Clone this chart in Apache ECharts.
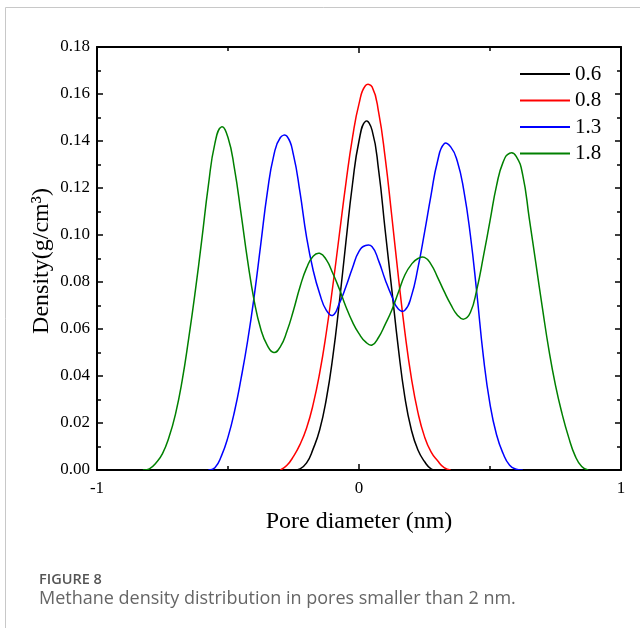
<!DOCTYPE html>
<html>
<head>
<meta charset="utf-8">
<script src="https://cdn.jsdelivr.net/npm/echarts@6/dist/echarts.min.js"></script>
<style>
html,body{margin:0;padding:0;background:#fff;}
#chart{width:640px;height:628px;}
</style>
</head>
<body>
<div id="chart"></div>
<script>
// ---- data ----
var seriesNames = ['0.6', '0.8', '1.3', '1.8'];
var seriesColors = ['#000000', '#ff0000', '#0000ff', '#008000'];

var x06 = [-0.25,-0.225,-0.2,-0.175,-0.15,-0.125,-0.1,-0.075,-0.05,-0.025,0,0.025,0.05,0.075,0.1,0.125,0.15,0.175,0.2,0.225,0.25,0.275,0.3];
var y06 = [0,0.0005,0.003,0.009,0.0171,0.030,0.0481,0.0713,0.097,0.1215,0.140,0.1484,0.1445,0.1275,0.1019,0.077,0.052,0.031,0.017,0.0085,0.0036,0.0005,0];

var x08 = [-0.3,-0.275,-0.25,-0.225,-0.2,-0.175,-0.15,-0.125,-0.1,-0.075,-0.05,-0.025,0,0.025,0.05,0.075,0.1,0.125,0.15,0.175,0.2,0.225,0.25,0.275,0.3,0.325,0.35];
var y08 = [0,0.002,0.0058,0.0109,0.0179,0.0279,0.0413,0.0583,0.0783,0.1002,0.122,0.1413,0.1558,0.1636,0.163,0.1522,0.1328,0.1082,0.0825,0.0588,0.0391,0.0244,0.0142,0.0077,0.0039,0.001,0];

var x13 = [-0.575,-0.55,-0.525,-0.5,-0.475,-0.45,-0.425,-0.4,-0.375,-0.35,-0.325,-0.3,-0.275,-0.25,-0.225,-0.2,-0.175,-0.15,-0.125,-0.1,-0.075,-0.05,-0.025,0,0.025,0.05,0.075,0.1,0.125,0.15,0.175,0.2,0.225,0.25,0.275,0.3,0.325,0.35,0.375,0.4,0.425,0.45,0.475,0.5,0.525,0.55,0.575,0.6,0.625];
var y13 = [0,0.001,0.006,0.014,0.025,0.039,0.055,0.074,0.096,0.118,0.134,0.1415,0.142,0.134,0.118,0.099,0.085,0.075,0.068,0.0658,0.0709,0.078,0.086,0.093,0.0955,0.095,0.089,0.081,0.074,0.0685,0.068,0.074,0.086,0.101,0.117,0.1315,0.1388,0.1375,0.1315,0.119,0.100,0.075,0.048,0.028,0.015,0.007,0.002,0.0003,0];

var x18 = [-0.825,-0.8,-0.775,-0.75,-0.725,-0.7,-0.675,-0.65,-0.625,-0.6,-0.575,-0.55,-0.525,-0.5,-0.475,-0.45,-0.425,-0.4,-0.375,-0.35,-0.325,-0.3,-0.275,-0.25,-0.225,-0.2,-0.175,-0.15,-0.125,-0.1,-0.075,-0.05,-0.025,0,0.025,0.05,0.075,0.1,0.125,0.15,0.175,0.2,0.225,0.25,0.275,0.3,0.325,0.35,0.375,0.4,0.425,0.45,0.475,0.5,0.525,0.55,0.575,0.6,0.625,0.65,0.675,0.7,0.725,0.75,0.775,0.8,0.825,0.85,0.875];
var y18 = [0,0.0005,0.003,0.007,0.014,0.024,0.038,0.056,0.076,0.098,0.121,0.139,0.146,0.1415,0.128,0.109,0.089,0.072,0.060,0.053,0.050,0.0525,0.059,0.068,0.078,0.086,0.091,0.0922,0.0895,0.0837,0.077,0.0695,0.063,0.058,0.0545,0.0532,0.0565,0.062,0.068,0.0755,0.083,0.0875,0.090,0.0905,0.0875,0.082,0.076,0.0705,0.066,0.0642,0.067,0.077,0.091,0.106,0.121,0.131,0.1348,0.1335,0.1255,0.107,0.088,0.069,0.051,0.036,0.024,0.014,0.006,0.0015,0];

var xTicks = [-1, 0, 1];
var yTicks = [0, 0.02, 0.04, 0.06, 0.08, 0.10, 0.12, 0.14, 0.16, 0.18];

var xTitle = 'Pore diameter (nm)';
var yTitle = 'Density(g/cm\u00B3)';
var captionHead = 'FIGURE 8';
var captionText = 'Methane density distribution in pores smaller than 2 nm.';

// ---- build ----
var allX = [x06, x08, x13, x18];
var allY = [y06, y08, y13, y18];

var serif = '"Liberation Serif", "Times New Roman", serif';

var tickStyle = {
  axisLine: { show: true, onZero: false, lineStyle: { color: '#000', width: 2 } },
  axisTick: { show: true, inside: true, length: 6, lineStyle: { color: '#000', width: 1.5 } },
  minorTick: { show: true, splitNumber: 2, length: 4, lineStyle: { color: '#000', width: 1.5 } },
  splitLine: { show: false },
  minorSplitLine: { show: false }
};

function axis(extra) {
  return Object.assign({}, JSON.parse(JSON.stringify(tickStyle)), extra);
}

// each curve: a smooth polyline through the data points, positioned by the axes (api.coord)
function curveRenderer(idx) {
  return function (params, api) {
    var xs = allX[idx], ys = allY[idx];
    var pts = [];
    for (var i = 0; i < xs.length; i++) pts.push(api.coord([xs[i], ys[i]]));
    return {
      type: 'polyline',
      shape: { points: pts, smooth: 0.5 },
      style: { stroke: seriesColors[idx], fill: null, lineWidth: 1.5 },
      silent: true
    };
  };
}

var series = seriesNames.map(function (n, i) {
  return {
    name: n,
    type: 'custom',
    coordinateSystem: 'cartesian2d',
    data: [[allX[i][0], allY[i][0]]],
    renderItem: curveRenderer(i),
    clip: true,
    itemStyle: { color: seriesColors[i] },
    z: 2 + i
  };
});

var chart = echarts.init(document.getElementById('chart'), null, { renderer: 'canvas' });
chart.setOption({
  backgroundColor: '#ffffff',
  animation: false,
  grid: { left: 97, right: 19, top: 47, bottom: 158, containLabel: false },
  xAxis: [
    axis({
      type: 'value', position: 'bottom', min: xTicks[0], max: xTicks[xTicks.length - 1], interval: 1,
      axisLabel: { color: '#000', fontFamily: serif, fontSize: 17, margin: 10 },
      name: xTitle, nameLocation: 'middle', nameGap: 40,
      nameTextStyle: { color: '#000', fontFamily: serif, fontSize: 24 }
    }),
    axis({
      type: 'value', position: 'top', min: xTicks[0], max: xTicks[xTicks.length - 1], interval: 1,
      axisLabel: { show: false }
    })
  ],
  yAxis: [
    axis({
      type: 'value', position: 'left', min: yTicks[0], max: yTicks[yTicks.length - 1], interval: 0.02,
      axisLabel: { color: '#000', fontFamily: serif, fontSize: 17, margin: 7,
        formatter: function (v) { return v.toFixed(2); } }
    }),
    axis({
      type: 'value', position: 'right', min: yTicks[0], max: yTicks[yTicks.length - 1], interval: 0.02,
      axisLabel: { show: false }
    })
  ],
  legend: {
    data: seriesNames,
    orient: 'vertical',
    left: 520,
    top: 63.5,
    padding: 0,
    itemWidth: 50,
    itemHeight: 14,
    itemGap: 5.5,
    icon: 'path://M0,0L50,0L50,2L0,2Z',
    symbolKeepAspect: true,
    textStyle: { color: '#000', fontFamily: serif, fontSize: 21 }
  },
  graphic: [
    {
      type: 'rect', silent: true, z: -10,
      shape: { x: 5.5, y: 7.5, width: 800, height: 800 },
      style: { fill: null, stroke: '#c8c8c8', lineWidth: 1 }
    },
    {
      type: 'text', silent: true,
      x: 42, y: 261, rotation: Math.PI / 2,
      style: { text: yTitle, fill: '#000', font: '24px ' + serif, align: 'center', verticalAlign: 'middle' }
    },
    {
      type: 'text', silent: true, x: 39, y: 580,
      style: { text: captionHead, fill: '#555', font: '600 14.5px "Open Sans", "Noto Sans", sans-serif', align: 'left', verticalAlign: 'middle' }
    },
    {
      type: 'text', silent: true, x: 39, y: 599,
      style: { text: captionText, fill: '#666', font: '18px "Open Sans", "Noto Sans", sans-serif', align: 'left', verticalAlign: 'middle' }
    }
  ],
  series: series
});
</script>
</body>
</html>
